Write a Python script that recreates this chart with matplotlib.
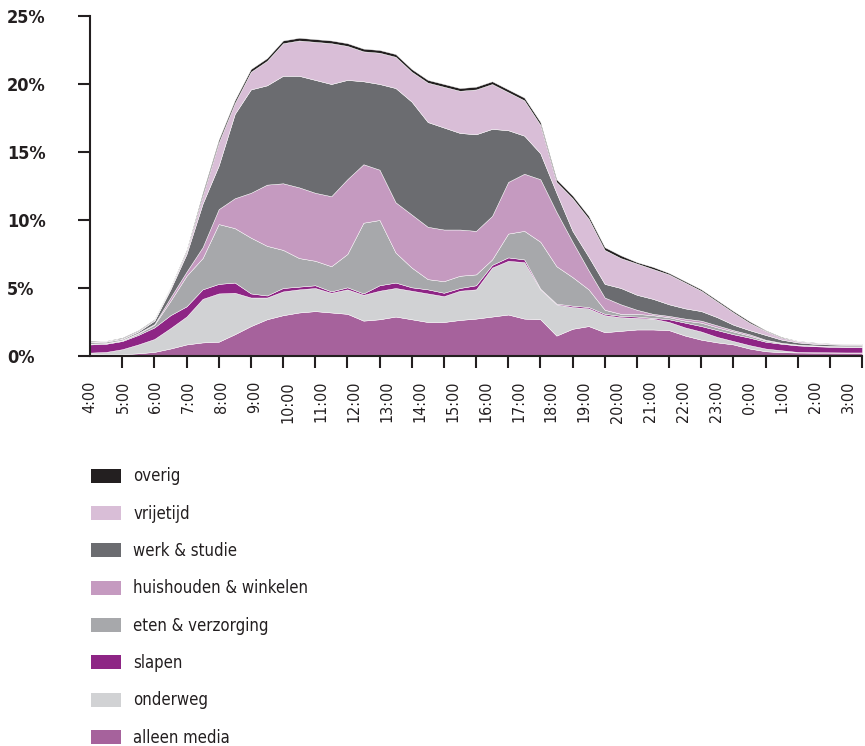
import numpy as np
import matplotlib
matplotlib.use("Agg")
import matplotlib.pyplot as plt
from matplotlib.patches import Patch

plt.rcParams['font.family'] = ['DejaVu Sans']
plt.rcParams['font.stretch'] = 'condensed'

# half-hourly, 4:00 .. 4:00 next day (share of people, %)
hours = np.arange(49) * 0.5

alleen_media = [0.15, 0.12, 0.12, 0.20, 0.30, 0.55, 0.85, 1.00, 1.05, 1.60,
                2.20, 2.70, 3.00, 3.20, 3.30, 3.20, 3.10, 2.60, 2.70, 2.90,
                2.70, 2.50, 2.50, 2.65, 2.75, 2.90, 3.05, 2.75, 2.70, 1.50,
                2.00, 2.20, 1.75, 1.85, 1.95, 1.95, 1.90, 1.50, 1.20, 1.00,
                0.85, 0.55, 0.35, 0.28, 0.26, 0.25, 0.25, 0.25, 0.25]
onderweg = [0.10, 0.18, 0.38, 0.65, 0.95, 1.50, 2.05, 3.20, 3.55, 3.05,
            2.10, 1.60, 1.75, 1.70, 1.70, 1.45, 1.80, 1.90, 2.10, 2.10,
            2.10, 2.10, 1.90, 2.15, 2.15, 3.60, 3.95, 4.15, 2.20, 2.30,
            1.60, 1.30, 1.25, 1.00, 0.85, 0.80, 0.60, 0.60, 0.60, 0.40,
            0.25, 0.25, 0.20, 0.14, 0.04, 0.03, 0.02, 0.01, 0.01]
slapen = [0.60, 0.60, 0.60, 0.70, 0.85, 0.95, 0.75, 0.70, 0.70, 0.75,
          0.30, 0.15, 0.25, 0.20, 0.20, 0.10, 0.15, 0.10, 0.40, 0.40,
          0.25, 0.30, 0.25, 0.20, 0.30, 0.20, 0.25, 0.20, 0.05, 0.05,
          0.10, 0.10, 0.10, 0.10, 0.10, 0.05, 0.20, 0.35, 0.40, 0.50,
          0.50, 0.55, 0.50, 0.48, 0.48, 0.44, 0.41, 0.40, 0.40]
eten_verzorging = [0.05, 0.05, 0.05, 0.10, 0.20, 1.05, 2.25, 2.30, 4.40, 4.00,
                   4.10, 3.65, 2.80, 2.10, 1.80, 1.85, 2.45, 5.20, 4.80, 2.20,
                   1.45, 0.75, 0.85, 0.90, 0.80, 0.40, 1.75, 2.10, 3.45, 2.75,
                   2.10, 1.30, 0.30, 0.15, 0.20, 0.20, 0.15, 0.15, 0.25, 0.20,
                   0.20, 0.15, 0.10, 0.05, 0.04, 0.04, 0.04, 0.04, 0.04]
huishouden = [0.02, 0.02, 0.03, 0.05, 0.05, 0.25, 0.30, 0.80, 1.10, 2.20,
              3.30, 4.50, 4.90, 5.20, 5.00, 5.15, 5.50, 4.30, 3.70, 3.70,
              3.90, 3.85, 3.80, 3.40, 3.20, 3.20, 3.80, 4.20, 4.60, 4.00,
              2.60, 1.40, 0.90, 0.70, 0.30, 0.10, 0.10, 0.15, 0.15, 0.15,
              0.10, 0.10, 0.05, 0.02, 0.02, 0.02, 0.02, 0.02, 0.02]
werk_studie = [0.08, 0.08, 0.07, 0.10, 0.25, 0.60, 1.30, 3.20, 3.20, 6.20,
               7.60, 7.30, 7.90, 8.20, 8.30, 8.25, 7.30, 6.10, 6.30, 8.40,
               8.30, 7.70, 7.50, 7.10, 7.10, 6.40, 3.80, 2.80, 1.90, 1.40,
               0.80, 1.00, 1.00, 1.20, 1.10, 1.10, 0.85, 0.75, 0.70, 0.60,
               0.40, 0.30, 0.35, 0.23, 0.16, 0.12, 0.11, 0.10, 0.10]
vrijetijd = [0.05, 0.05, 0.05, 0.05, 0.05, 0.10, 0.20, 0.60, 1.70, 0.80,
             1.30, 1.80, 2.40, 2.60, 2.80, 3.00, 2.50, 2.20, 2.30, 2.30,
             2.20, 2.90, 3.00, 3.10, 3.30, 3.30, 2.80, 2.60, 2.10, 0.80,
             2.40, 2.80, 2.50, 2.20, 2.30, 2.20, 2.20, 1.90, 1.50, 1.15,
             0.90, 0.55, 0.30, 0.15, 0.10, 0.07, 0.05, 0.05, 0.04]
overig = [0.05, 0.02, 0.05, 0.05, 0.05, 0.05, 0.10, 0.20, 0.20, 0.20,
          0.20, 0.20, 0.20, 0.20, 0.20, 0.20, 0.20, 0.20, 0.20, 0.20,
          0.20, 0.20, 0.20, 0.20, 0.20, 0.20, 0.20, 0.20, 0.20, 0.20,
          0.20, 0.20, 0.20, 0.20, 0.10, 0.15, 0.10, 0.10, 0.10, 0.10,
          0.10, 0.10, 0.05, 0.05, 0.02, 0.03, 0.02, 0.03, 0.02]

series = [alleen_media, onderweg, slapen, eten_verzorging,
          huishouden, werk_studie, vrijetijd, overig]
labels = ["alleen media", "onderweg", "slapen", "eten & verzorging",
          "huishouden & winkelen", "werk & studie", "vrijetijd", "overig"]
colors = ["#a6629c", "#d1d2d4", "#8e2585", "#a7a8ab",
          "#c59ac0", "#6b6c70", "#d9bed7", "#231f20"]

hour_labels = [f"{(4 + i) % 24}:00" for i in range(24)]

dark = "#231f20"

fig = plt.figure(figsize=(8.65, 7.46), dpi=100)
ax = fig.add_axes([90 / 865, 1 - 356 / 746, 772 / 865, 340 / 746])

ax.stackplot(hours, *series, colors=colors, edgecolor="white", linewidth=0.3)

ax.set_xlim(0, 24)
ax.set_ylim(0, 25)

for side in ["top", "right"]:
    ax.spines[side].set_visible(False)
for side in ["left", "bottom"]:
    ax.spines[side].set_color(dark)
    ax.spines[side].set_linewidth(1.5)

# y axis
ax.set_yticks(range(0, 26, 5))
ax.set_yticklabels([f"{v}%" for v in range(0, 26, 5)], fontsize=13,
                   fontweight="bold", color=dark, ha="left")
ax.tick_params(axis="y", length=8.6, width=1.5, color=dark, pad=51)

# x axis: short ticks every hour, labels spaced a little wider
ax.set_xticks(np.arange(25), minor=True)
ax.set_xticks(np.arange(24) * 1.0246)
ax.set_xticklabels(hour_labels, rotation=90, fontsize=11.5, color=dark)
ax.tick_params(axis="x", which="minor", length=8.6, width=1.5, color=dark)
ax.tick_params(axis="x", which="major", length=0, pad=18)

handles = [Patch(facecolor=c, edgecolor="none") for c in colors[::-1]]
fig.legend(handles, labels[::-1], loc="upper left",
           bbox_to_anchor=(83 / 865, 1 - 459 / 746), frameon=False,
           fontsize=12, handlelength=1.8, handleheight=0.92,
           handletextpad=0.72, labelspacing=1.16, borderpad=0,
           labelcolor=dark)

fig.savefig("out.png", dpi=100)
